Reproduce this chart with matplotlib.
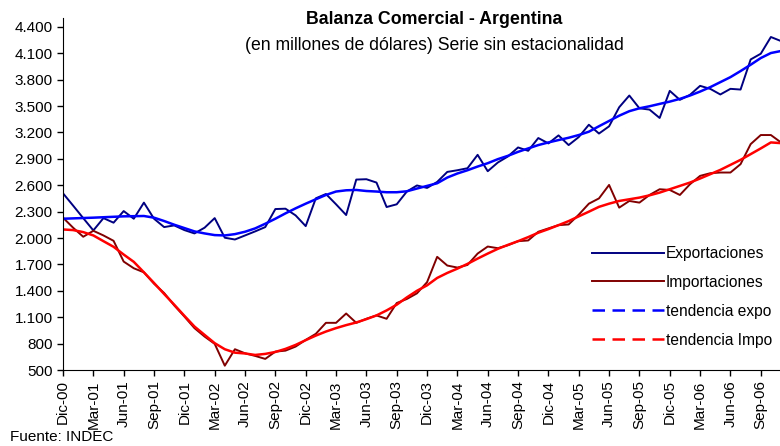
import matplotlib.pyplot as plt
from matplotlib.lines import Line2D
from matplotlib.ticker import FuncFormatter

plt.rcParams['font.family'] = ['Liberation Sans', 'DejaVu Sans']

# monthly values, Dic-00 .. Nov-06 (millones de dolares)
exportaciones = [2508, 2368, 2226, 2086, 2226, 2174, 2306, 2219, 2402, 2219,
                 2124, 2143, 2090, 2052, 2117, 2226, 2003, 1983, 2029, 2075,
                 2124, 2329, 2333, 2257, 2135, 2451, 2500, 2383, 2261, 2664,
                 2668, 2630, 2352, 2383, 2528, 2597, 2569, 2637, 2751, 2770,
                 2793, 2945, 2759, 2858, 2927, 3029, 2991, 3136, 3075, 3166,
                 3056, 3147, 3287, 3187, 3269, 3486, 3619, 3474, 3459, 3364,
                 3672, 3570, 3627, 3729, 3695, 3631, 3695, 3687, 4029, 4094,
                 4284, 4238]
importaciones = [2231, 2117, 2014, 2082, 2029, 1968, 1732, 1656, 1610, 1481,
                 1375, 1234, 1108, 976, 880, 797, 549, 736, 690, 660,
                 626, 709, 720, 766, 842, 911, 1036, 1036, 1142, 1036,
                 1082, 1120, 1082, 1261, 1307, 1371, 1498, 1786, 1687, 1664,
                 1694, 1823, 1903, 1884, 1918, 1964, 1972, 2071, 2109, 2146,
                 2154, 2265, 2390, 2450, 2603, 2345, 2421, 2402, 2489, 2554,
                 2546, 2489, 2611, 2706, 2736, 2744, 2744, 2839, 3067, 3170,
                 3170, 3086]
tendencia_expo = [2219, 2223, 2227, 2231, 2236, 2241, 2246, 2248, 2250, 2231,
                  2193, 2151, 2113, 2075, 2052, 2033, 2029, 2044, 2071, 2109,
                  2162, 2219, 2280, 2337, 2390, 2440, 2489, 2528, 2542, 2546,
                  2534, 2528, 2520, 2520, 2531, 2562, 2592, 2622, 2687, 2733,
                  2770, 2812, 2850, 2896, 2934, 2979, 3018, 3056, 3086, 3113,
                  3139, 3170, 3208, 3270, 3330, 3390, 3441, 3474, 3497, 3524,
                  3550, 3581, 3619, 3664, 3714, 3771, 3828, 3897, 3969, 4045,
                  4102, 4125]
tendencia_impo = [2097, 2090, 2067, 2029, 1964, 1900, 1812, 1729, 1610, 1489,
                  1364, 1242, 1116, 994, 899, 805, 736, 697, 688, 671,
                  683, 705, 740, 785, 839, 891, 937, 976, 1010, 1040,
                  1078, 1120, 1177, 1242, 1325, 1400, 1462, 1546, 1603, 1652,
                  1706, 1766, 1823, 1877, 1922, 1964, 2010, 2060, 2101, 2146,
                  2192, 2246, 2299, 2354, 2390, 2421, 2440, 2459, 2485, 2516,
                  2554, 2592, 2630, 2676, 2725, 2774, 2831, 2888, 2953, 3018,
                  3086, 3078]

tick_labels = ['Dic-00', 'Mar-01', 'Jun-01', 'Sep-01', 'Dic-01', 'Mar-02',
               'Jun-02', 'Sep-02', 'Dic-02', 'Mar-03', 'Jun-03', 'Sep-03',
               'Dic-03', 'Mar-04', 'Jun-04', 'Sep-04', 'Dic-04', 'Mar-05',
               'Jun-05', 'Sep-05', 'Dic-05', 'Mar-06', 'Jun-06', 'Sep-06']

x = list(range(len(exportaciones)))

fig = plt.figure(figsize=(7.8, 4.46), dpi=100)
ax = fig.add_axes([63 / 780, 76 / 446, 718 / 780, 352 / 446])

ax.plot(x, exportaciones, color='#000080', lw=1.4)
ax.plot(x, importaciones, color='#800000', lw=1.4)
ax.plot(x, tendencia_expo, color='#0000FF', lw=1.8)
ax.plot(x, tendencia_impo, color='#FF0000', lw=1.8)

ax.set_xlim(0, 71)
ax.set_ylim(500, 4500)
ax.set_yticks(range(500, 4401, 300))
ax.yaxis.set_major_formatter(FuncFormatter(lambda v, p: f'{int(v):,}'.replace(',', '.')))
ax.set_xticks(range(0, 3 * len(tick_labels), 3))
ax.set_xticklabels(tick_labels, rotation=90)
ax.tick_params(labelsize=11, length=4, width=1, colors='black')
ax.spines['top'].set_visible(False)
ax.spines['right'].set_visible(False)

handles = [Line2D([], [], color='#000080', lw=1.4),
           Line2D([], [], color='#800000', lw=1.4),
           Line2D([], [], color='#0000FF', lw=1.8, ls=(0, (5, 3))),
           Line2D([], [], color='#FF0000', lw=1.8, ls=(0, (5, 3)))]
labels = ['Exportaciones', 'Importaciones', 'tendencia expo', 'tendencia Impo']
fig.legend(handles, labels, loc='upper left', bbox_to_anchor=(592 / 780, 1 - 246 / 446),
           frameon=False, fontsize=11.2, handlelength=4.6, handletextpad=0.15,
           labelspacing=0.89, borderpad=0, borderaxespad=0)

fig.text(434 / 780, 1 - 19 / 446, 'Balanza Comercial - Argentina',
         ha='center', va='center', fontsize=12.8, fontweight='bold')
fig.text(434 / 780, 1 - 45 / 446, '(en millones de dólares) Serie sin estacionalidad',
         ha='center', va='center', fontsize=12.7)
fig.text(10 / 780, 1 - 437 / 446, 'Fuente: INDEC', ha='left', va='center', fontsize=11)

fig.savefig('out.png', dpi=100)
